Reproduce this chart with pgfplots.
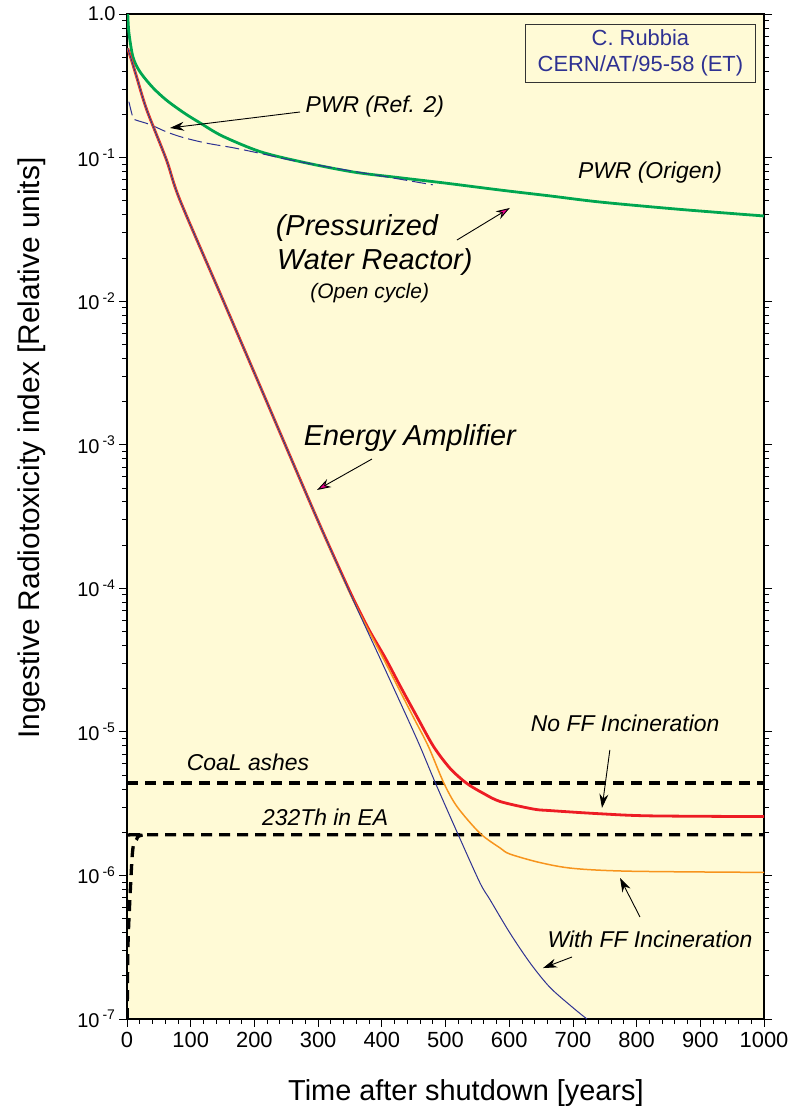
\documentclass[border=0pt]{standalone}
\usepackage{fontspec}
\setmainfont{Liberation Sans}
\usepackage{pgfplots}
\pgfplotsset{compat=1.18}
\usetikzlibrary{arrows.meta}

\definecolor{bgyellow}{RGB}{255,250,214}
\definecolor{pwrgreen}{RGB}{0,166,80}
\definecolor{eared}{RGB}{237,28,36}
\definecolor{ffgold}{RGB}{247,148,29}
\definecolor{navy}{RGB}{46,49,146}
\definecolor{mag}{RGB}{236,0,140}

\newcommand{\lbl}{\fontsize{23}{26}\selectfont\itshape}
\newcommand{\dec}[1]{10\textsuperscript{\hspace{3bp}#1}}

\begin{document}
\begin{tikzpicture}
\begin{axis}[
    name=ax,
    scale only axis,
    width=637bp, height=1005bp,
    ymode=log,
    xmin=0, xmax=1000,
    ymin=1e-7, ymax=1,
    axis background/.style={fill=bgyellow},
    axis line style={line width=1.2pt},
    clip=true,
    xtick={0,100,...,1000},
    minor x tick num=4,
    xtick pos=left,
    ytick pos=both,
    tick align=outside,
    major tick length=8bp,
    minor tick length=5bp,
    every tick/.style={black, line width=0.8pt},
    ytick={1e-7,1e-6,1e-5,1e-4,1e-3,1e-2,1e-1,1},
    yticklabels={\dec{-7},\dec{-6},\dec{-5},\dec{-4},\dec{-3},\dec{-2},\dec{-1},1.0},
    yticklabel pos=left,
    xticklabel style={font=\fontsize{22}{24}\selectfont,
        /pgf/number format/assume math mode=true,
        /pgf/number format/1000 sep={}},
    yticklabel style={font=\fontsize{20}{22}\selectfont},
    x tick label style={yshift=-2bp},
    xlabel={Time after shutdown [years]},
    ylabel={Ingestive Radiotoxicity index [Relative units]},
    xlabel style={font=\fontsize{29}{32}\selectfont, at={(axis description cs:0.532,-0.074)}, anchor=center},
    ylabel style={font=\fontsize{30}{33}\selectfont, at={(axis description cs:-0.149,0.568)}, anchor=center},
]

% PWR (Origen)
\addplot[pwrgreen, line width=2.8bp, smooth] coordinates {
    (1.2,1.0) (3,0.741) (9.4,0.501) (20,0.398) (40,0.309) (62,0.251)
    (90,0.204) (115,0.174) (150,0.141) (209,0.110) (274,0.0933)
    (355,0.0794) (428,0.0724) (500,0.0664) (586,0.0594) (665,0.0540)
    (743,0.0490) (870,0.0435) (1000,0.0392)
};

% PWR (Ref. 2)
\addplot[navy, line width=1bp, dash pattern=on 14bp off 5bp, smooth] coordinates {
    (3,0.245) (9.4,0.19) (15,0.182) (36,0.170) (62,0.151) (88,0.138)
    (125,0.126) (167,0.117) (209,0.107) (260,0.0955) (330,0.0840)
    (408,0.0733) (480,0.0646)
};

% Coal ashes
\addplot[black, line width=3.3bp, dash pattern=on 11bp off 7bp] coordinates {
    (0,4.41e-6) (1000,4.41e-6)
};

% 232Th in EA
\addplot[black, line width=3.3bp, dash pattern=on 11bp off 7bp, smooth] coordinates {
    (0.3,1e-7) (1.5,3.16e-7) (4.5,6.76e-7) (9,1.51e-6) (15,1.78e-6)
    (22,1.9e-6) (60,1.92e-6) (1000,1.92e-6)
};

% EA, no FF incineration
\addplot[eared, line width=2.8bp, smooth] coordinates {
    (1,0.577) (7,0.479) (15,0.366) (31,0.215) (62,0.0962) (83,0.0507)
    (150,0.01035) (200,3.16e-3) (291,3.63e-4) (330,1.48e-4) (355,8.5e-5)
    (380,5.13e-5) (406,3.24e-5) (430,2.04e-5) (455,1.28e-5) (481,7.94e-6)
    (507,5.58e-6) (533,4.39e-6) (559,3.74e-6) (586,3.27e-6) (638,2.90e-6)
    (664,2.83e-6) (742,2.69e-6) (821,2.60e-6) (1000,2.57e-6)
};

% EA, with FF incineration
\addplot[ffgold, line width=1.5bp, smooth] coordinates {
    (1,0.577) (7,0.479) (15,0.366) (31,0.215) (62,0.0962) (83,0.0507)
    (150,0.01035) (200,3.16e-3) (291,3.63e-4) (355,8.3e-5) (402,3.27e-5)
    (449,1.28e-5) (473,7.94e-6) (497,4.44e-6) (518,3.02e-6) (554,1.97e-6)
    (586,1.55e-6) (601,1.41e-6) (648,1.23e-6) (700,1.12e-6) (790,1.07e-6)
    (1000,1.05e-6)
};

% EA, fission products removed
\addplot[navy, line width=1bp, smooth] coordinates {
    (1,0.577) (7,0.479) (15,0.366) (31,0.215) (62,0.0962) (83,0.0507)
    (150,0.01035) (200,3.16e-3) (291,3.63e-4) (355,8.3e-5) (397,3.27e-5)
    (439,1.28e-5) (460,7.94e-6) (484,4.42e-6) (520,1.92e-6) (554,8.9e-7)
    (570,6.76e-7) (601,3.98e-7) (633,2.45e-7) (664,1.66e-7) (700,1.2e-7)
    (722,1.0e-7)
};

% annotations
\node[font=\lbl] at (rel axis cs:0.389,0.9075) {PWR (Ref. 2)};
\draw[line width=0.9bp, -{Stealth[length=14bp,width=9bp]}] (rel axis cs:0.2716,0.9025) -- (rel axis cs:0.0675,0.8866);
\node[font=\lbl] at (rel axis cs:0.821,0.8418) {PWR (Origen)};

\node[font=\fontsize{29}{32}\selectfont\itshape] at (rel axis cs:0.361,0.787) {(Pressurized};
\node[font=\fontsize{29}{32}\selectfont\itshape] at (rel axis cs:0.389,0.7532) {Water Reactor)};
\node[font=\fontsize{21}{24}\selectfont\itshape] at (rel axis cs:0.381,0.7224) {(Open cycle)};
\draw[line width=0.9bp, -{Stealth[length=14bp,width=9bp,fill=mag]}] (rel axis cs:0.518,0.7751) -- (rel axis cs:0.601,0.8070);

\node[font=\fontsize{29}{32}\selectfont\itshape] at (rel axis cs:0.444,0.5781) {Energy Amplifier};
\draw[line width=0.9bp, -{Stealth[length=14bp,width=9bp,fill=mag]}] (rel axis cs:0.3846,0.5572) -- (rel axis cs:0.2983,0.5264);

\node[font=\lbl] at (rel axis cs:0.782,0.2945) {No FF Incineration};
\draw[line width=0.9bp, -{Stealth[length=14bp,width=9bp]}] (rel axis cs:0.758,0.2677) -- (rel axis cs:0.7457,0.2100);

\node[font=\lbl] at (rel axis cs:0.821,0.0796) {With FF Incineration};
\draw[line width=0.9bp, -{Stealth[length=14bp,width=9bp]}] (rel axis cs:0.8053,0.1015) -- (rel axis cs:0.774,0.1403);
\draw[line width=0.9bp, -{Stealth[length=14bp,width=9bp]}] (rel axis cs:0.6986,0.0617) -- (rel axis cs:0.653,0.0507);

\node[font=\lbl] at (rel axis cs:0.19,0.2557) {CoaL ashes};
\node[font=\lbl] at (rel axis cs:0.311,0.201) {232Th in EA};

\draw[fill=bgyellow, draw=black!80, line width=1bp] (rel axis cs:0.6248,0.9900) rectangle (rel axis cs:0.9874,0.9323);
\node[font=\fontsize{22}{26}\selectfont, text=navy, align=center] at (rel axis cs:0.806,0.9612) {C. Rubbia\\CERN/AT/95-58 (ET)};
\end{axis}
\pgfresetboundingbox
\path ([shift={(-127bp,-92bp)}]ax.south west) rectangle ([shift={(37bp,14bp)}]ax.north east);
\end{tikzpicture}
\end{document}
